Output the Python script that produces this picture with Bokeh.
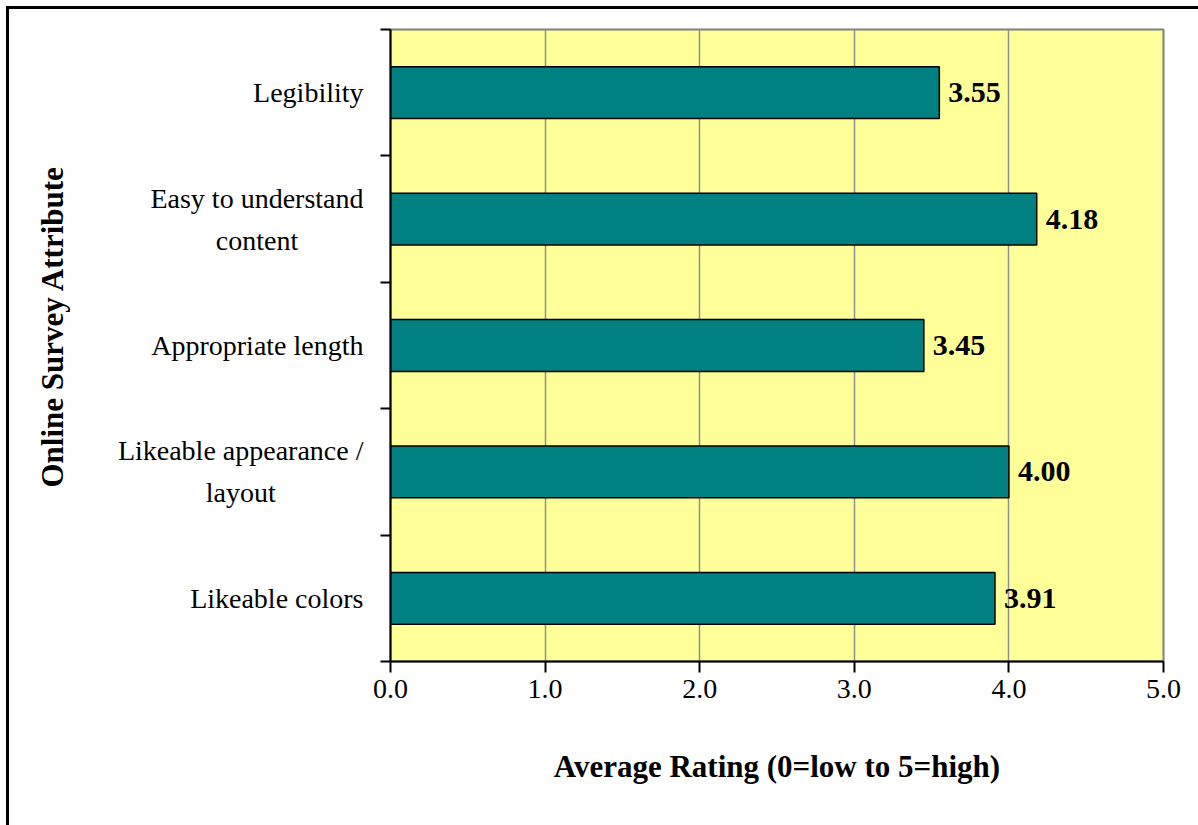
import math
from bokeh.plotting import figure
from bokeh.layouts import row
from bokeh.models import FixedTicker, ColumnDataSource, Range1d
from bokeh.core.properties import value
from bokeh.embed import file_html
from bokeh.resources import INLINE

categories = ["Legibility", "Easy to understand\ncontent", "Appropriate length",
              "Likeable appearance /\nlayout", "Likeable colors"]
ratings = [3.55, 4.18, 3.45, 4.00, 3.91]
rating_labels = ["3.55", "4.18", "3.45", "4.00", "3.91"]
x_ticks = [0, 1, 2, 3, 4, 5]
x_tick_labels = ["0.0", "1.0", "2.0", "3.0", "4.0", "5.0"]
x_title = "Average Rating (0=low to 5=high)"
y_title = "Online Survey Attribute"

n = len(categories)
ys = [n - 0.5 - i for i in range(n)]
src = ColumnDataSource(dict(y=ys, v=ratings, lab=rating_labels))

FONT = "Liberation Serif"
LABEL_PX = 28
LINE_GAP = 21

# approximate Times/Liberation Serif advance widths (em) for centring wrapped lines
_W = {" ": .25, "/": .278, "a": .444, "b": .5, "c": .444, "d": .5, "e": .444, "f": .333,
      "g": .5, "i": .278, "k": .5, "l": .278, "m": .778, "r": .333, "s": .389, "t": .278,
      "w": .722, "z": .444, "E": .611, "L": .611, "A": .722}


def text_width(s, px):
    return sum(_W.get(ch, .5) for ch in s) * px


TOP, BOTTOM, H = 20, 164, 816
LEFT_W = 361          # label panel width
MAIN_W = 1189 - LEFT_W
MAIN_LEFT = 20        # room for y ticks
y_range = Range1d(0, n)

# ---------------- main plot ----------------
p = figure(width=MAIN_W, height=H, output_backend="svg", toolbar_location=None,
           x_range=(0, 5), y_range=y_range,
           min_border_left=MAIN_LEFT, min_border_top=TOP, min_border_right=35,
           min_border_bottom=BOTTOM)
p.background_fill_color = "#FFFF99"
p.border_fill_color = "white"
p.outline_line_color = "#808080"
p.outline_line_width = 2

p.hbar(y="y", right="v", left=0, height=0.41, source=src,
       fill_color="#008080", line_color="black", line_width=1.5)
p.text(x="v", y="y", text="lab", source=src, x_offset=9,
       text_baseline="middle", text_align="left",
       text_font=value(FONT), text_font_style="bold", text_font_size="30px",
       text_color="black")

p.xaxis.ticker = FixedTicker(ticks=x_ticks)
p.xaxis.major_label_overrides = {t: l for t, l in zip(x_ticks, x_tick_labels)}
p.xaxis.axis_label = x_title
p.xaxis.axis_label_text_font = FONT
p.xaxis.axis_label_text_font_style = "bold"
p.xaxis.axis_label_text_font_size = "31px"
p.xaxis.axis_label_text_color = "black"
p.xaxis.axis_label_standoff = 48
p.xaxis.major_label_text_font = FONT
p.xaxis.major_label_text_font_size = "28px"
p.xaxis.major_label_text_color = "black"
p.xaxis.major_label_standoff = 7
p.xaxis.major_tick_in = 0
p.xaxis.major_tick_out = 11
p.xaxis.minor_tick_line_color = None
p.xaxis.axis_line_width = 2
p.xaxis.major_tick_line_width = 2

p.yaxis.ticker = FixedTicker(ticks=ys, minor_ticks=list(range(n + 1)))
p.yaxis.major_label_overrides = {y: "" for y in ys}
p.yaxis.major_label_text_font_size = "0px"
p.yaxis.major_label_standoff = 0
p.yaxis.major_tick_line_color = None
p.yaxis.major_tick_in = 0
p.yaxis.major_tick_out = 0
p.yaxis.minor_tick_in = 0
p.yaxis.minor_tick_out = 10
p.yaxis.minor_tick_line_color = "black"
p.yaxis.minor_tick_line_width = 2
p.yaxis.axis_line_width = 2

p.xgrid.ticker = FixedTicker(ticks=x_ticks)
p.xgrid.grid_line_color = "#909090"
p.xgrid.grid_line_width = 1.5
p.ygrid.grid_line_color = None

# ---------------- category label panel ----------------
q = figure(width=LEFT_W, height=H, output_backend="svg", toolbar_location=None,
           x_range=(0, LEFT_W), y_range=y_range,
           x_axis_location=None, y_axis_location=None,
           min_border_left=0, min_border_right=0, min_border_top=TOP,
           min_border_bottom=BOTTOM)
q.outline_line_color = None
q.background_fill_color = "white"
q.border_fill_color = "white"
q.grid.visible = False

label_right = LEFT_W - 7
r_rows = dict(y=[], t=[], dy=[])
c_rows = dict(y=[], t=[], dx=[], dy=[])
for yc, cat in zip(ys, categories):
    lines = cat.split("\n")
    w1 = text_width(lines[0], LABEL_PX)
    for k, line in enumerate(lines):
        dy = -LINE_GAP * (len(lines) - 1) + 2 * LINE_GAP * k
        if k == 0:
            r_rows["y"].append(yc); r_rows["t"].append(line); r_rows["dy"].append(dy)
        else:
            c_rows["y"].append(yc); c_rows["t"].append(line)
            c_rows["dx"].append(-w1 / 2); c_rows["dy"].append(dy)

q.text(x=label_right, y="y", text="t", y_offset="dy", source=ColumnDataSource(r_rows),
       text_align="right", text_baseline="middle", text_font=value(FONT),
       text_font_size=f"{LABEL_PX}px", text_color="black")
q.text(x=label_right, y="y", text="t", x_offset="dx", y_offset="dy",
       source=ColumnDataSource(c_rows),
       text_align="center", text_baseline="middle", text_font=value(FONT),
       text_font_size=f"{LABEL_PX}px", text_color="black")
q.text(x=[43], y=[n / 2], text=[y_title], y_offset=-19, angle=math.pi / 2,
       text_align="center", text_baseline="middle", text_font=value(FONT),
       text_font_style="bold", text_font_size="31px", text_color="black")

layout = row(q, p)
layout.styles = {"border-top": "3px solid black", "border-left": "3px solid black",
                 "margin-top": "6px", "margin-left": "6px", "gap": "0px"}

open("out.html", "w").write(file_html(layout, INLINE))
